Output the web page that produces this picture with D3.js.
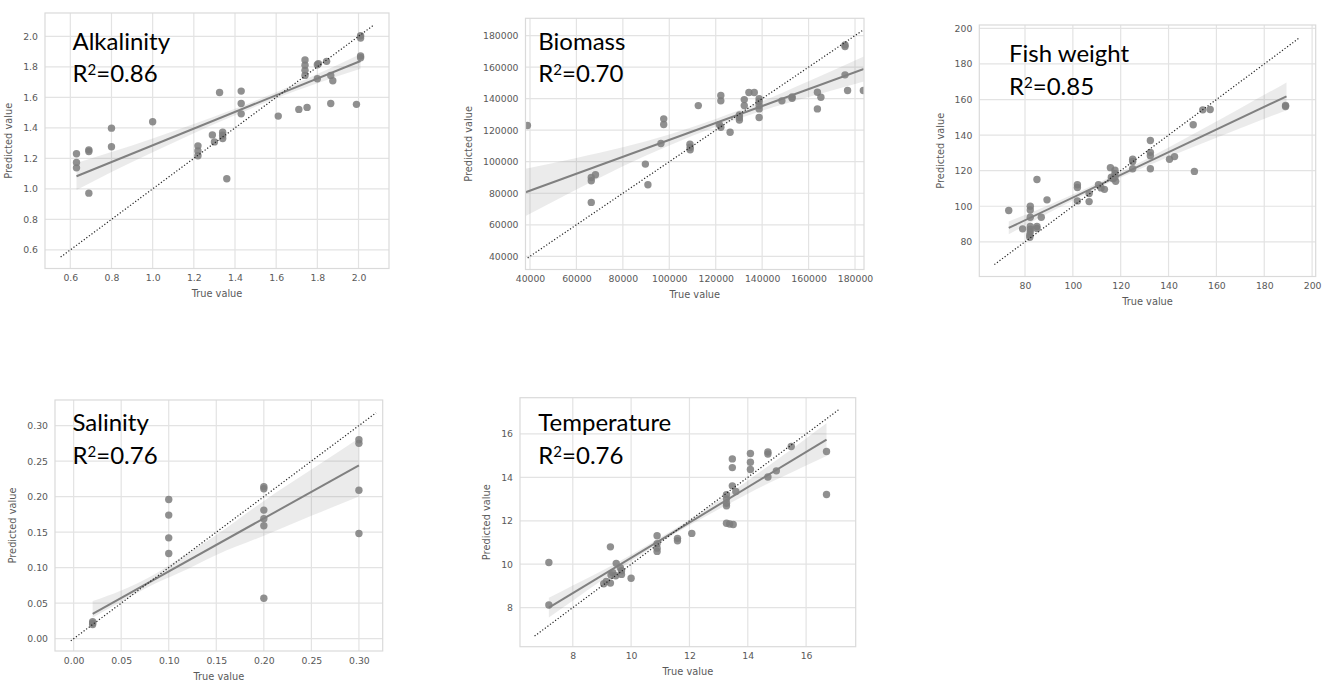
<!DOCTYPE html>
<html><head><meta charset="utf-8">
<script src="https://cdn.jsdelivr.net/npm/d3@7"></script>
<style>body{margin:0;background:#fff} svg{display:block}</style>
</head><body>
<svg id="c" width="1336" height="682"></svg>
<script>
// ---------- Alkalinity ----------
const alkTrue = [0.63,0.63,0.63,0.69,0.69,0.69,0.80,0.80,1.00,1.22,1.22,1.22,1.29,1.30,1.325,1.34,1.34,1.34,1.36,1.43,1.43,1.43,1.61,1.71,1.75,1.74,1.74,1.74,1.74,1.80,1.805,1.80,1.845,1.865,1.875,1.865,1.99,2.01,2.01,2.01,2.01];
const alkPred = [1.230,1.173,1.138,1.256,1.245,0.972,1.398,1.276,1.440,1.282,1.249,1.217,1.354,1.308,1.632,1.372,1.352,1.330,1.066,1.641,1.560,1.492,1.477,1.521,1.534,1.845,1.810,1.777,1.744,1.814,1.821,1.722,1.836,1.744,1.709,1.560,1.554,2.004,1.989,1.871,1.860];
const alkFitX = [0.63, 2.01];
const alkFitY = [1.083, 1.838];
const alkBandX = [0.63, 0.8, 1.0, 1.2, 1.4, 1.6, 1.8, 2.01];
const alkBandLo = [0.993, 1.111, 1.240, 1.365, 1.482, 1.594, 1.693, 1.788];
const alkBandHi = [1.170, 1.241, 1.330, 1.425, 1.526, 1.634, 1.753, 1.885];
const alkDiag = [0.553, 2.07];
const alkTicks = [0.6, 0.8, 1.0, 1.2, 1.4, 1.6, 1.8, 2.0];

// ---------- Biomass ----------
const bioTrue = [38900,66400,66400,68200,66400,89700,90800,96400,97600,97600,112500,108900,109000,109000,122200,122200,121600,122200,126200,130200,130200,130200,132300,132300,134300,136600,138700,138700,138700,138700,138700,148500,152900,152900,163800,163800,165300,175700,175700,175700,176800,183600];
const bioPred = [123000,90000,87900,91700,74200,98500,85400,111600,127200,123600,135600,111100,109200,107600,142000,138600,123400,121900,118700,129700,128000,126400,139400,135600,143900,143900,139900,138200,135600,133500,128000,138600,141100,140300,144100,133500,140900,174100,173000,155100,145200,145200];
const bioFitX = [38100, 183800];
const bioFitY = [80600, 158800];
const bioBandX = [38100, 60000, 80000, 100000, 120000, 140000, 160000, 183800];
const bioBandLo = [65600, 82400, 97100, 110300, 122100, 132300, 141000, 150800];
const bioBandHi = [95600, 102400, 109100, 117300, 127100, 138300, 151000, 166800];
const bioDiag = [39000, 183800];
const bioTicks = [40000, 60000, 80000, 100000, 120000, 140000, 160000, 180000];

// ---------- Fish weight ----------
const fishTrue = [73.2,79.0,82.2,82.2,82.2,82.2,82.2,82.2,82.0,82.0,85.0,85.0,85.0,86.8,89.2,101.9,101.9,101.9,106.8,106.8,110.7,111.8,113.2,115.7,117.6,117.6,117.6,116.8,117.9,116.1,125.0,125.0,125.0,132.4,132.4,132.4,132.4,140.4,142.5,150.3,150.8,154.3,157.4,188.9,188.9];
const fishPred = [97.6,87.3,100.0,97.9,93.8,88.6,87.1,85.6,83.9,82.6,115.0,88.6,87.5,93.8,103.6,112.1,110.5,103.0,107.1,102.6,112.1,110.3,109.5,121.7,120.2,118.3,116.4,115.5,114.0,116.3,126.4,125.2,121.1,137.0,130.3,128.4,121.1,126.4,127.9,145.8,119.6,154.2,154.4,156.1,156.6];
const fishFitX = [73.2, 189.3];
const fishFitY = [87.8, 161.8];
const fishBandX = [73.2, 90, 110, 130, 150, 170, 189.3];
const fishBandLo = [84.2, 96.3, 109.8, 122.0, 133.2, 143.9, 154.0];
const fishBandHi = [91.4, 100.7, 112.8, 126.0, 140.4, 155.1, 169.6];
const fishDiag = [67.2, 194.3];
const fishTicks = [80, 100, 120, 140, 160, 180, 200];

// ---------- Salinity ----------
const salTrue = [0.02,0.02,0.02,0.1,0.1,0.1,0.1,0.2,0.2,0.2,0.2,0.2,0.2,0.3,0.3,0.3,0.3];
const salPred = [0.024,0.022,0.020,0.196,0.174,0.142,0.120,0.214,0.211,0.181,0.169,0.159,0.057,0.280,0.275,0.209,0.148];
const salFitX = [0.02, 0.30];
const salFitY = [0.035, 0.244];
const salBandX = [0.02, 0.05, 0.08, 0.11, 0.15, 0.2, 0.25, 0.3];
const salBandLo = [0.030, 0.052, 0.074, 0.092, 0.118, 0.145, 0.173, 0.200];
const salBandHi = [0.053, 0.068, 0.087, 0.112, 0.146, 0.194, 0.238, 0.282];
const salDiag = [-0.003, 0.318];
const salTicks = [0.00, 0.05, 0.10, 0.15, 0.20, 0.25, 0.30];

// ---------- Temperature ----------
const tempTrue = [7.18,7.18,9.29,9.06,9.15,9.29,9.49,9.37,9.31,9.47,9.67,9.67,9.63,10.0,10.89,10.89,10.89,10.89,11.59,11.59,12.08,13.27,13.38,13.50,13.27,13.27,13.27,13.27,13.47,13.47,13.47,13.59,14.09,14.09,14.09,14.69,14.69,14.69,14.98,15.49,16.70,16.70];
const tempPred = [10.08,8.12,10.80,9.10,9.21,9.13,10.04,9.61,9.50,9.47,9.70,9.53,9.84,9.35,11.31,10.94,10.74,10.59,11.19,11.08,11.42,11.89,11.85,11.83,13.20,13.01,12.81,12.69,14.85,14.45,13.61,13.35,15.10,14.70,14.36,15.17,15.08,14.02,14.30,15.42,15.19,13.21];
const tempFitX = [7.18, 16.70];
const tempFitY = [8.0, 15.74];
const tempBandX = [7.18, 8, 9, 10, 11, 12, 13, 14, 15, 16, 16.7];
const tempBandLo = [7.55, 8.32, 9.26, 10.14, 10.99, 11.79, 12.53, 13.25, 13.91, 14.55, 14.99];
const tempBandHi = [8.45, 9.02, 9.70, 10.44, 11.23, 12.05, 12.93, 13.85, 14.81, 15.79, 16.49];
const tempDiag = [6.69, 17.15];
const tempTicks = [8, 10, 12, 14, 16];

const names = ["Alkalinity", "Biomass", "Fish weight", "Salinity", "Temperature"];
const r2 = ["0.86", "0.70", "0.85", "0.76", "0.76"];

// ---------- layout config ----------
const panels = [
  {tx: alkTrue, ty: alkPred, fx: alkFitX, fy: alkFitY, bx: alkBandX, lo: alkBandLo, hi: alkBandHi, diag: alkDiag, ticks: alkTicks, fmt: d3.format(".1f"),
   box: [45, 389, 13, 268.5], xd: [0.477, 2.148], yd: [0.478, 2.153], title: [72.5, 49.5, 81.5]},
  {tx: bioTrue, ty: bioPred, fx: bioFitX, fy: bioFitY, bx: bioBandX, lo: bioBandLo, hi: bioBandHi, diag: bioDiag, ticks: bioTicks, fmt: d3.format("d"),
   box: [525.5, 864, 18.3, 269.5], xd: [38065, 183870], yd: [31640, 190960], title: [538.3, 49.5, 81.5]},
  {tx: fishTrue, ty: fishPred, fx: fishFitX, fy: fishFitY, bx: fishBandX, lo: fishBandLo, hi: fishBandHi, diag: fishDiag, ticks: fishTicks, fmt: d3.format("d"),
   box: [979.3, 1315.7, 25, 276.5], xd: [60.9, 201.5], yd: [60.5, 201.9], title: [1009, 61.7, 95]},
  {tx: salTrue, ty: salPred, fx: salFitX, fy: salFitY, bx: salBandX, lo: salBandLo, hi: salBandHi, diag: salDiag, ticks: salTicks, fmt: d3.format(".2f"),
   box: [55, 382.7, 400, 651], xd: [-0.0196, 0.325], yd: [-0.0173, 0.336], title: [72.5, 431, 463.5]},
  {tx: tempTrue, ty: tempPred, fx: tempFitX, fy: tempFitY, bx: tempBandX, lo: tempBandLo, hi: tempBandHi, diag: tempDiag, ticks: tempTicks, fmt: d3.format("d"),
   box: [520, 855.7, 397.7, 646.7], xd: [6.19, 17.70], yd: [6.20, 17.67], title: [538.3, 430.5, 463.5]}
];

const svg = d3.select("#c");
const tickFont = "'DejaVu Sans', 'Liberation Sans', sans-serif";
const titleFont = "Lato, 'Open Sans', sans-serif";
const grey = "#595959";

panels.forEach((p, i) => {
  const [L, R, T, B] = p.box;
  const x = d3.scaleLinear().domain(p.xd).range([L, R]);
  const y = d3.scaleLinear().domain(p.yd).range([B, T]);
  const g = svg.append("g");
  const cid = "clip" + i;
  svg.append("defs").append("clipPath").attr("id", cid)
    .append("rect").attr("x", L).attr("y", T).attr("width", R - L).attr("height", B - T);

  // gridlines
  const grid = g.append("g").attr("stroke", "#e3e3e3").attr("stroke-width", 1.2);
  p.ticks.forEach(t => {
    grid.append("line").attr("x1", x(t)).attr("x2", x(t)).attr("y1", T).attr("y2", B);
    grid.append("line").attr("y1", y(t)).attr("y2", y(t)).attr("x1", L).attr("x2", R);
  });

  const plot = g.append("g").attr("clip-path", `url(#${cid})`);

  // points
  plot.append("g").selectAll("circle").data(p.tx.map((v, k) => [v, p.ty[k]])).join("circle")
    .attr("cx", d => x(d[0])).attr("cy", d => y(d[1])).attr("r", 3.7)
    .attr("fill", "#7d7d7d").attr("fill-opacity", 0.85);

  // confidence band
  const bandData = p.bx.map((v, k) => [v, p.lo[k], p.hi[k]]);
  plot.append("path").datum(bandData)
    .attr("d", d3.area().x(d => x(d[0])).y0(d => y(d[1])).y1(d => y(d[2])).curve(d3.curveMonotoneX))
    .attr("fill", "#8a8a8a").attr("fill-opacity", 0.17);

  // regression line
  plot.append("path").datum(p.fx.map((v, k) => [v, p.fy[k]]))
    .attr("d", d3.line().x(d => x(d[0])).y(d => y(d[1])))
    .attr("stroke", "#808080").attr("stroke-width", 2).attr("fill", "none");

  // identity line
  plot.append("path").datum(p.diag.map(v => [v, v]))
    .attr("d", d3.line().x(d => x(d[0])).y(d => y(d[1])))
    .attr("stroke", "#222").attr("stroke-width", 1.2).attr("stroke-dasharray", "1.2,2").attr("fill", "none");

  // frame
  g.append("rect").attr("x", L).attr("y", T).attr("width", R - L).attr("height", B - T)
    .attr("fill", "none").attr("stroke", "#dadada").attr("stroke-width", 1.2);

  // axes (labels only)
  const ax = g.append("g").attr("transform", `translate(0,${B})`)
    .call(d3.axisBottom(x).tickValues(p.ticks).tickSize(0).tickPadding(6).tickFormat(p.fmt));
  const ay = g.append("g").attr("transform", `translate(${L},0)`)
    .call(d3.axisLeft(y).tickValues(p.ticks).tickSize(0).tickPadding(7).tickFormat(p.fmt));
  [ax, ay].forEach(a => {
    a.select(".domain").remove();
    a.selectAll("text").attr("fill", grey).style("font-family", tickFont).style("font-size", "9.3px");
  });

  // axis titles
  g.append("text").attr("x", (L + R) / 2).attr("y", B + 28.5).attr("text-anchor", "middle")
    .attr("fill", grey).style("font-family", tickFont).style("font-size", "9.8px").text("True value");
  const yw = ay.node().getBBox().width;
  const yl = L - yw - 11;
  g.append("text").attr("transform", `translate(${yl},${(T + B) / 2}) rotate(-90)`)
    .attr("text-anchor", "middle").attr("fill", grey)
    .style("font-family", tickFont).style("font-size", "9.8px").text("Predicted value");

  // panel title
  g.append("text").attr("x", p.title[0]).attr("y", p.title[1])
    .style("font-family", titleFont).style("font-size", "24px").attr("fill", "#000").text(names[i]);
  const t2 = g.append("text").attr("x", p.title[0]).attr("y", p.title[2])
    .style("font-family", titleFont).style("font-size", "24px").attr("fill", "#000");
  t2.append("tspan").text("R");
  t2.append("tspan").attr("dy", -7).style("font-size", "15px").text("2");
  t2.append("tspan").attr("dy", 7).text("=" + r2[i]);
});
</script>
</body></html>
